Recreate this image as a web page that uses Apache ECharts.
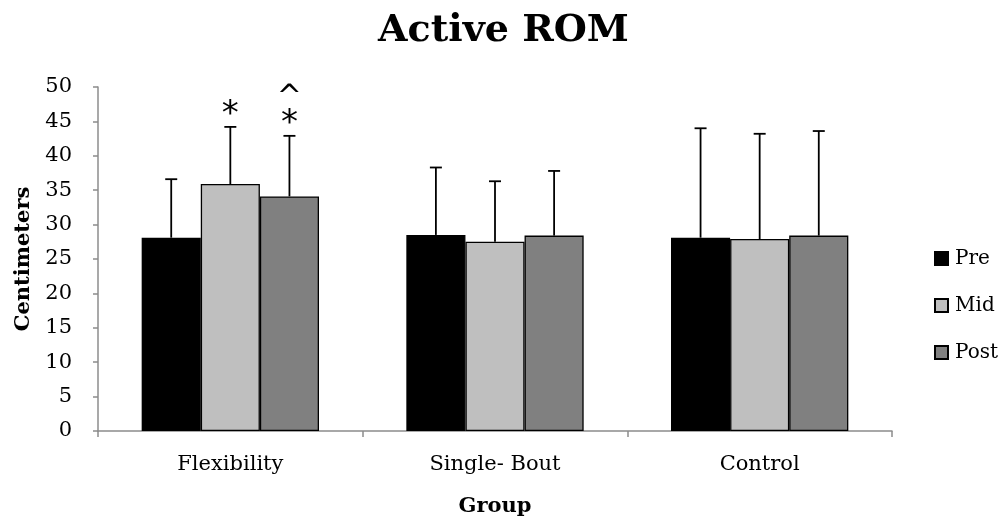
<!DOCTYPE html>
<html>
<head>
<meta charset="utf-8">
<script src="https://cdn.jsdelivr.net/npm/echarts@6/dist/echarts.min.js"></script>
<style>
  html, body { margin: 0; padding: 0; background: #fff; }
  #chart { width: 1007px; height: 521px; }
</style>
</head>
<body>
<div id="chart"></div>
<script>
// Groups and measurement times
var categories = ['Flexibility', 'Single- Bout', 'Control'];
var seriesNames = ['Pre', 'Mid', 'Post'];

// Mean active ROM (cm)
var preMeans  = [28.1, 28.5, 28.1];
var midMeans  = [35.9, 27.5, 27.9];
var postMeans = [34.1, 28.4, 28.4];

// Standard deviations (upper error bar)
var preSD  = [8.5, 9.8, 15.9];
var midSD  = [8.3, 8.8, 15.3];
var postSD = [8.8, 9.4, 15.2];

// Significance markers above error bars (lines stacked upward)
var preMarks  = ['', '', ''];
var midMarks  = ['*', '', ''];
var postMarks = ['^\n*', '', ''];

var colors = ['#000000', '#bfbfbf', '#808080'];
var means = [preMeans, midMeans, postMeans];
var sds = [preSD, midSD, postSD];
var marks = [preMarks, midMarks, postMarks];

var FONT = 'DejaVu Serif';
var CAT_GAP = 0.33;

var series = [];
seriesNames.forEach(function (name, s) {
  series.push({
    name: name,
    type: 'bar',
    data: means[s],
    barGap: '0%',
    barCategoryGap: (CAT_GAP * 100) + '%',
    itemStyle: { color: colors[s], borderColor: '#000', borderWidth: 1.3 },
    z: 2
  });
});

// Upper error bars with cap and marker text, offset to each bar in the group
seriesNames.forEach(function (name, s) {
  var errData = categories.map(function (c, i) {
    return [i, means[s][i], means[s][i] + sds[s][i], marks[s][i]];
  });
  series.push({
    type: 'custom',
    name: name + ' error',
    data: errData,
    z: 3,
    silent: true,
    renderItem: function (params, api) {
      var i = api.value(0);
      var base = api.coord([i, api.value(1)]);
      var top = api.coord([i, api.value(2)]);
      var catW = api.size([1, 0])[0];
      var barW = catW * (1 - CAT_GAP) / seriesNames.length;
      var x = base[0] + (s - (seriesNames.length - 1) / 2) * barW;
      var cap = 6;
      var children = [
        { type: 'line', shape: { x1: x, y1: base[1], x2: x, y2: top[1] },
          style: { stroke: '#000', lineWidth: 1.8 } },
        { type: 'line', shape: { x1: x - cap, y1: top[1], x2: x + cap, y2: top[1] },
          style: { stroke: '#000', lineWidth: 1.8 } }
      ];
      var txt = errData[params.dataIndex][3];
      if (txt) {
        var lines = txt.split('\n');
        lines.forEach(function (t, k) {
          var fromBottom = lines.length - 1 - k;
          var isCaret = t === '^';
          children.push({
            type: 'text',
            style: {
              x: x, y: top[1] - 12 - fromBottom * 29 + (isCaret ? 3 : 0), text: t,
              align: 'center', verticalAlign: 'middle',
              font: (isCaret ? '30px "DejaVu Sans"' : '34px "DejaVu Sans"'), fill: '#000'
            }
          });
        });
      }
      return { type: 'group', children: children };
    }
  });
});

var chart = echarts.init(document.getElementById('chart'));
chart.setOption({
  animation: false,
  backgroundColor: '#fff',
  title: {
    text: 'Active ROM',
    left: 'center',
    top: 7,
    textStyle: { fontFamily: FONT, fontWeight: 'bold', fontSize: 38, color: '#000' }
  },
  legend: {
    data: seriesNames,
    orient: 'vertical',
    left: 929,
    top: 241,
    itemWidth: 13,
    itemHeight: 13,
    itemGap: 22,
    icon: 'rect',
    textStyle: { fontFamily: FONT, fontSize: 20, color: '#000', padding: [0, 0, 0, 2], lineHeight: 25 }
  },
  grid: { left: 98, right: 115, top: 87, bottom: 90, containLabel: false, outerBoundsMode: 'none' },
  xAxis: {
    type: 'category',
    data: categories,
    name: 'Group',
    nameLocation: 'middle',
    nameGap: 65,
    nameTextStyle: { fontFamily: FONT, fontWeight: 'bold', fontSize: 21, color: '#000' },
    axisLine: { lineStyle: { color: '#8c8c8c', width: 1.5 } },
    axisTick: { show: true, length: 6, lineStyle: { color: '#8c8c8c', width: 1.5 } },
    axisLabel: { fontFamily: FONT, fontSize: 21, color: '#000', margin: 23 },
    splitLine: { show: false }
  },
  yAxis: {
    type: 'value',
    min: 0,
    max: 50,
    interval: 5,
    name: 'Centimeters',
    nameLocation: 'middle',
    nameGap: 64,
    nameTextStyle: { fontFamily: FONT, fontWeight: 'bold', fontSize: 21, color: '#000' },
    axisLine: { show: true, lineStyle: { color: '#8c8c8c', width: 1.5 } },
    axisTick: { show: true, length: 5, lineStyle: { color: '#8c8c8c', width: 1.5 } },
    axisLabel: { fontFamily: FONT, fontSize: 21, color: '#000', margin: 26 },
    splitLine: { show: false }
  },
  series: series
});
</script>
</body>
</html>
